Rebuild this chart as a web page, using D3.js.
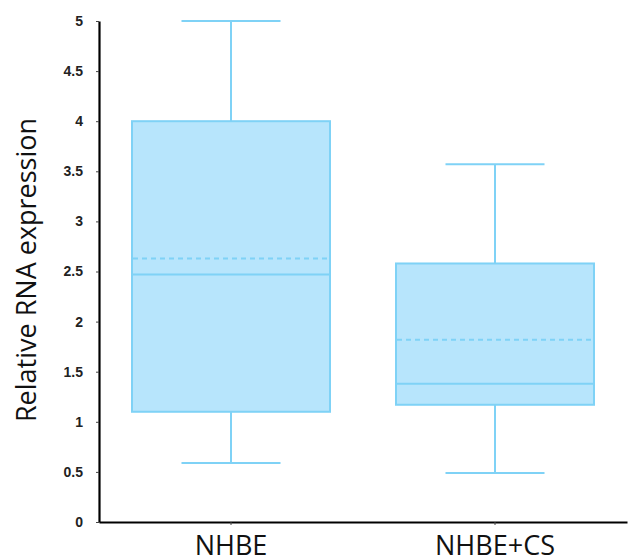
<!DOCTYPE html>
<html>
<head>
<meta charset="utf-8">
<script src="https://cdn.jsdelivr.net/npm/d3@7"></script>
<style>
  html, body { margin: 0; padding: 0; background: #fff; }
  svg { display: block; }
</style>
</head>
<body>
<svg id="chart" width="632" height="558"></svg>
<script>
// Box-plot summary per sample group
const groups = ["NHBE", "NHBE+CS"];
const whiskerLow = [0.59, 0.49];
const q1 = [1.10, 1.17];
const median = [2.47, 1.38];
const mean = [2.63, 1.82];
const q3 = [4.00, 2.58];
const whiskerHigh = [5.00, 3.57];
const yTicks = [0, 0.5, 1, 1.5, 2, 2.5, 3, 3.5, 4, 4.5, 5];
const yTickLabels = ["0", "0.5", "1", "1.5", "2", "2.5", "3", "3.5", "4", "4.5", "5"];

const fill = "#b7e5fc";
const stroke = "#7fd2f6";

const svg = d3.select("#chart");
const plotLeft = 99, plotRight = 627, plotTop = 21, plotBottom = 522;

const x = d3.scaleBand().domain(groups).range([plotLeft, plotRight]).padding(0);
const y = d3.scaleLinear().domain([0, 5]).range([plotBottom, plotTop]);

const boxW = x.bandwidth() * 0.75;
const capW = boxW * 0.5;

const data = groups.map((g, i) => ({
  g, lo: whiskerLow[i], q1: q1[i], med: median[i], mean: mean[i], q3: q3[i], hi: whiskerHigh[i]
}));

const box = svg.append("g").selectAll("g").data(data).join("g")
  .attr("transform", d => `translate(${x(d.g) + x.bandwidth() / 2},0)`);

// whisker stems
box.append("line")
  .attr("x1", 0).attr("x2", 0)
  .attr("y1", d => y(d.hi)).attr("y2", d => y(d.q3))
  .attr("stroke", stroke).attr("stroke-width", 2);
box.append("line")
  .attr("x1", 0).attr("x2", 0)
  .attr("y1", d => y(d.q1)).attr("y2", d => y(d.lo))
  .attr("stroke", stroke).attr("stroke-width", 2);

// whisker caps
box.append("line")
  .attr("x1", -capW / 2).attr("x2", capW / 2)
  .attr("y1", d => y(d.hi)).attr("y2", d => y(d.hi))
  .attr("stroke", stroke).attr("stroke-width", 2);
box.append("line")
  .attr("x1", -capW / 2).attr("x2", capW / 2)
  .attr("y1", d => y(d.lo)).attr("y2", d => y(d.lo))
  .attr("stroke", stroke).attr("stroke-width", 2);

// interquartile box
box.append("rect")
  .attr("x", -boxW / 2).attr("width", boxW)
  .attr("y", d => y(d.q3)).attr("height", d => y(d.q1) - y(d.q3))
  .attr("fill", fill).attr("stroke", stroke).attr("stroke-width", 2);

// median
box.append("line")
  .attr("x1", -boxW / 2).attr("x2", boxW / 2)
  .attr("y1", d => y(d.med)).attr("y2", d => y(d.med))
  .attr("stroke", stroke).attr("stroke-width", 2);

// mean (dashed)
box.append("line")
  .attr("x1", -boxW / 2 + 1).attr("x2", boxW / 2 - 3)
  .attr("y1", d => y(d.mean)).attr("y2", d => y(d.mean))
  .attr("stroke", stroke).attr("stroke-width", 2)
  .attr("stroke-dasharray", "5,4");

// y axis
const yAxis = svg.append("g")
  .attr("transform", `translate(${plotLeft},0)`)
  .call(d3.axisLeft(y).tickValues(yTicks)
    .tickFormat((d, i) => yTickLabels[i]).tickSize(3).tickSizeOuter(0).tickPadding(13));
yAxis.select(".domain").attr("stroke", "#000").attr("stroke-width", 2.2);
yAxis.selectAll(".tick line").attr("stroke", "#444").attr("stroke-width", 1);
yAxis.selectAll(".tick text")
  .attr("font-family", "'Liberation Sans', Arial, sans-serif")
  .attr("font-weight", "bold").attr("font-size", 14).attr("fill", "#222");

// x axis
const xAxis = svg.append("g")
  .attr("transform", `translate(0,${plotBottom})`)
  .call(d3.axisBottom(x).tickSize(3).tickSizeOuter(0).tickPadding(11));
xAxis.select(".domain").attr("stroke", "#000").attr("stroke-width", 2.2);
xAxis.selectAll(".tick line").attr("stroke", "#444").attr("stroke-width", 1);
xAxis.selectAll(".tick text")
  .attr("font-family", "'Open Sans', sans-serif")
  .attr("font-size", 27).attr("fill", "#111");

// y axis title
svg.append("text")
  .attr("transform", `translate(36,270) rotate(-90)`)
  .attr("text-anchor", "middle")
  .attr("font-family", "'Open Sans', sans-serif")
  .attr("font-size", 27).attr("fill", "#111")
  .text("Relative RNA expression");
</script>
</body>
</html>
